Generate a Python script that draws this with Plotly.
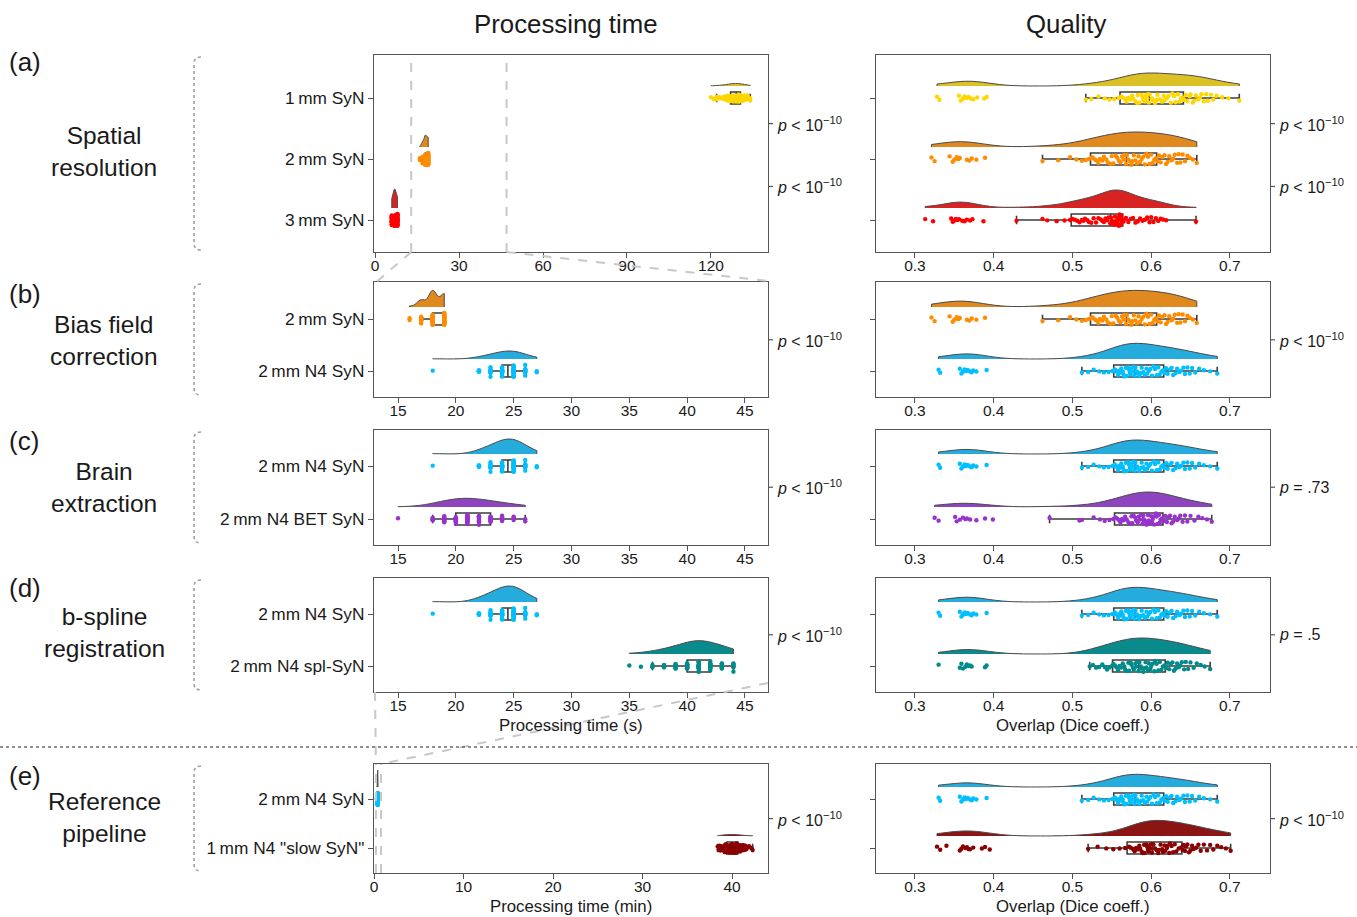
import numpy as np
import plotly.graph_objects as go

W, H = 1357, 917
FONT = "Liberation Sans, Arial, Helvetica, sans-serif"
TS = "\u2009"

# ---------------- data: processing time (distinct values, counts) ----------------
T_1MM_SYN_VALS = [120, 121, 122, 123, 124, 125, 126, 127, 128, 129, 130, 131, 132, 133, 134]
T_1MM_SYN_CNTS = [1, 1, 2, 2, 3, 4, 6, 10, 10, 11, 10, 8, 6, 4, 2]
T_2MM_SYN_VALS = [16, 17, 18, 19]
T_2MM_SYN_CNTS = [2, 15, 35, 28]
T_3MM_SYN_VALS = [6, 7, 8]
T_3MM_SYN_CNTS = [18, 40, 22]
T_N4_SYN_VALS = [18, 22, 23, 24, 25, 26, 27]
T_N4_SYN_CNTS = [1, 6, 12, 21, 26, 12, 2]
T_N4_BET_VALS = [15, 18, 19, 20, 21, 22, 23, 24, 25, 26]
T_N4_BET_CNTS = [1, 5, 10, 14, 16, 12, 9, 7, 4, 2]
T_N4_SPL_VALS = [35, 36, 37, 38, 39, 40, 41, 42, 43, 44]
T_N4_SPL_CNTS = [1, 1, 3, 6, 8, 14, 18, 14, 9, 6]
T_SLOW_MIN = [38.4, 38.5, 38.6, 38.7, 38.8, 38.8, 38.9, 39.0, 39.0, 39.1, 39.1, 39.2, 39.2, 39.2, 39.3,
              39.3, 39.3, 39.4, 39.4, 39.4, 39.5, 39.5, 39.5, 39.6, 39.6, 39.6, 39.7, 39.7, 39.7, 39.8,
              39.8, 39.8, 39.8, 39.9, 39.9, 39.9, 40.0, 40.0, 40.0, 40.0, 40.0, 40.1, 40.1, 40.1, 40.2,
              40.2, 40.2, 40.3, 40.3, 40.3, 40.4, 40.4, 40.4, 40.5, 40.5, 40.5, 40.6, 40.6, 40.6, 40.6,
              40.7, 40.7, 40.8, 40.8, 40.9, 40.9, 41.0, 41.0, 41.1, 41.1, 41.2, 41.2, 41.3, 41.4, 41.5,
              41.6, 41.9, 42.0, 42.2, 42.3]

# ---------------- data: overlap (Dice coefficient) ----------------
D_1MM_SYN = [0.328, 0.331, 0.356, 0.358, 0.361, 0.363, 0.366, 0.368, 0.371, 0.374, 0.379, 0.388, 0.391,
             0.517, 0.524, 0.533, 0.541, 0.547, 0.553, 0.559,
             0.562, 0.564, 0.567, 0.569, 0.571, 0.574, 0.576, 0.577, 0.580, 0.582, 0.583, 0.585, 0.588,
             0.589, 0.590, 0.592, 0.593, 0.595, 0.596, 0.597,
             0.598, 0.601, 0.602, 0.605, 0.607, 0.608, 0.611, 0.614, 0.616, 0.617, 0.620, 0.622, 0.625,
             0.627, 0.629, 0.631, 0.634, 0.636, 0.638, 0.640,
             0.642, 0.644, 0.646, 0.649, 0.650, 0.653, 0.655, 0.657, 0.660, 0.662, 0.664, 0.667, 0.670,
             0.672, 0.676, 0.679, 0.683, 0.690, 0.698, 0.712]
D_2MM_SYN = [0.321, 0.325, 0.344, 0.348, 0.350, 0.353, 0.355, 0.357, 0.366, 0.369, 0.372, 0.378, 0.389,
             0.462, 0.482, 0.497, 0.505, 0.512, 0.517, 0.521,
             0.525, 0.527, 0.530, 0.533, 0.535, 0.538, 0.540, 0.543, 0.545, 0.548, 0.550, 0.552, 0.555,
             0.557, 0.559, 0.561, 0.563, 0.565, 0.566, 0.568,
             0.569, 0.571, 0.573, 0.575, 0.576, 0.578, 0.580, 0.582, 0.584, 0.586, 0.588, 0.590, 0.592,
             0.594, 0.596, 0.598, 0.600, 0.602, 0.604, 0.606,
             0.608, 0.610, 0.612, 0.614, 0.617, 0.619, 0.621, 0.623, 0.626, 0.628, 0.630, 0.633, 0.635,
             0.637, 0.640, 0.643, 0.646, 0.649, 0.653, 0.658]
D_3MM_SYN = [0.313, 0.323, 0.346, 0.348, 0.350, 0.352, 0.354, 0.356, 0.360, 0.363, 0.366, 0.370, 0.373, 0.387,
             0.429, 0.462, 0.468, 0.480, 0.490, 0.497,
             0.500, 0.503, 0.506, 0.509, 0.512, 0.514, 0.516, 0.519, 0.521, 0.524, 0.527, 0.530, 0.533,
             0.536, 0.538, 0.540, 0.542, 0.544, 0.546, 0.548,
             0.549, 0.550, 0.551, 0.552, 0.553, 0.554, 0.555, 0.556, 0.557, 0.557, 0.558, 0.559, 0.559,
             0.560, 0.561, 0.561, 0.562, 0.562, 0.563, 0.563,
             0.565, 0.568, 0.571, 0.574, 0.577, 0.580, 0.583, 0.586, 0.589, 0.592, 0.595, 0.598, 0.600,
             0.603, 0.606, 0.609, 0.612, 0.615, 0.619, 0.657]
D_N4_SYN = [0.330, 0.332, 0.357, 0.359, 0.361, 0.363, 0.365, 0.367, 0.370, 0.372, 0.374, 0.378, 0.391,
            0.512, 0.520, 0.527, 0.534, 0.540, 0.546, 0.551,
            0.554, 0.555, 0.557, 0.558, 0.560, 0.561, 0.562, 0.564, 0.565, 0.566, 0.568, 0.569, 0.571,
            0.572, 0.573, 0.574, 0.575, 0.577, 0.578, 0.579,
            0.580, 0.582, 0.583, 0.585, 0.587, 0.588, 0.590, 0.592, 0.594, 0.595, 0.597, 0.599, 0.601,
            0.603, 0.605, 0.607, 0.609, 0.611, 0.613, 0.615,
            0.617, 0.619, 0.621, 0.624, 0.626, 0.628, 0.631, 0.633, 0.636, 0.638, 0.641, 0.643, 0.646,
            0.649, 0.652, 0.656, 0.661, 0.667, 0.675, 0.684]
D_N4_BET = [0.325, 0.330, 0.351, 0.353, 0.357, 0.361, 0.364, 0.366, 0.370, 0.378, 0.389, 0.399,
            0.471, 0.509, 0.512, 0.527, 0.535, 0.541, 0.547, 0.552,
            0.555, 0.557, 0.559, 0.561, 0.563, 0.565, 0.567, 0.569, 0.571, 0.573, 0.575, 0.576, 0.578,
            0.580, 0.581, 0.583, 0.584, 0.586, 0.587, 0.589,
            0.590, 0.591, 0.592, 0.594, 0.595, 0.596, 0.597, 0.598, 0.600, 0.601, 0.602, 0.603, 0.604,
            0.606, 0.607, 0.608, 0.610, 0.611, 0.612, 0.614,
            0.616, 0.618, 0.620, 0.622, 0.624, 0.626, 0.628, 0.630, 0.633, 0.635, 0.637, 0.640, 0.643,
            0.646, 0.650, 0.655, 0.660, 0.665, 0.671, 0.677]
D_N4_SPL = [0.330, 0.357, 0.359, 0.361, 0.364, 0.366, 0.368, 0.370, 0.372, 0.389, 0.391,
            0.522, 0.526, 0.530, 0.534, 0.538, 0.541, 0.544, 0.547, 0.550,
            0.552, 0.554, 0.556, 0.558, 0.560, 0.562, 0.564, 0.566, 0.567, 0.569, 0.571, 0.572, 0.574,
            0.575, 0.577, 0.578, 0.580, 0.581, 0.582, 0.584,
            0.585, 0.587, 0.588, 0.590, 0.591, 0.593, 0.594, 0.596, 0.597, 0.599, 0.600, 0.602, 0.604,
            0.605, 0.607, 0.609, 0.611, 0.613, 0.615, 0.617,
            0.619, 0.621, 0.623, 0.625, 0.627, 0.629, 0.631, 0.633, 0.635, 0.637, 0.639, 0.642, 0.644,
            0.647, 0.650, 0.654, 0.658, 0.663, 0.668, 0.675]
D_SLOW = [0.328, 0.332, 0.340, 0.357, 0.359, 0.361, 0.364, 0.366, 0.368, 0.370, 0.374, 0.385, 0.389, 0.395,
          0.520, 0.532, 0.543, 0.552, 0.560, 0.567,
          0.572, 0.574, 0.577, 0.579, 0.581, 0.583, 0.585, 0.586, 0.588, 0.589, 0.591, 0.592, 0.594,
          0.595, 0.596, 0.597, 0.598, 0.599, 0.600, 0.601,
          0.603, 0.605, 0.607, 0.609, 0.610, 0.612, 0.614, 0.615, 0.617, 0.618, 0.620, 0.621, 0.623,
          0.624, 0.626, 0.628, 0.630, 0.632, 0.635, 0.638,
          0.640, 0.641, 0.643, 0.644, 0.646, 0.648, 0.650, 0.652, 0.654, 0.657, 0.660, 0.663, 0.667,
          0.671, 0.675, 0.679, 0.684, 0.689, 0.695, 0.701]

LABEL_1MM = f"1{TS}mm SyN"
LABEL_2MM = f"2{TS}mm SyN"
LABEL_3MM = f"3{TS}mm SyN"
LABEL_N4 = f"2{TS}mm N4 SyN"
LABEL_BET = f"2{TS}mm N4 BET SyN"
LABEL_SPL = f"2{TS}mm N4 spl-SyN"
LABEL_SLOW = f'1{TS}mm N4 "slow SyN"'

P10 = "<i>p</i> < 10<sup>\u221210</sup>"


def expand(vals, cnts):
    return np.repeat(np.array(vals, dtype=float), cnts)


t_1mm = expand(T_1MM_SYN_VALS, T_1MM_SYN_CNTS)
t_2mm = expand(T_2MM_SYN_VALS, T_2MM_SYN_CNTS)
t_3mm = expand(T_3MM_SYN_VALS, T_3MM_SYN_CNTS)
t_n4 = expand(T_N4_SYN_VALS, T_N4_SYN_CNTS)
t_bet = expand(T_N4_BET_VALS, T_N4_BET_CNTS)
t_spl = expand(T_N4_SPL_VALS, T_N4_SPL_CNTS)
t_n4_min = t_n4 / 60.0
t_slow = np.array(T_SLOW_MIN)

# colours: (violin fill, points)
YEL = ("#dcc126", "#ffd700")
ORA = ("#e0891f", "#ff8c00")
RED = ("#d92222", "#ff0000")
BLU = ("#25abdc", "#00bfff")
PUR = ("#8e44bf", "#9932cc")
TEA = ("#0a8a8a", "#008b8b")
DRE = ("#8b1414", "#8b0000")

RANGE_A = [-0.357, 140.36]
RANGE_S = [12.925, 46.99]
RANGE_E = [0.0, 44.02]
RANGE_D = [0.2505, 0.751]

LEFT_PX = (374, 768)
RIGHT_PX = (876, 1270)

PANELS = [
    dict(letter="(a)", topic="Spatial<br>resolution", top=55, bottom=252, cat_px=[98, 159, 220],
         labels=[LABEL_1MM, LABEL_2MM, LABEL_3MM], time=[t_1mm, t_2mm, t_3mm],
         dice=[D_1MM_SYN, D_2MM_SYN, D_3MM_SYN], colors=[YEL, ORA, RED],
         xr=RANGE_A, xticks=[0, 30, 60, 90, 120], xfmt="{:d}",
         vh_l=[2.5, 12, 19], bw_l=[1.6, 0.45, 0.5], vh_r=[13, 15, 18], bw_r=[0.022, 0.022, 0.018],
         p_l=[(1.58, P10), (0.55, P10)], p_r=[(1.58, P10), (0.55, P10)], xtitle=None, dtitle=None),
    dict(letter="(b)", topic="Bias field<br>correction", top=282, bottom=397, cat_px=[319, 371],
         labels=[LABEL_2MM, LABEL_N4], time=[t_2mm, t_n4], dice=[D_2MM_SYN, D_N4_SYN], colors=[ORA, BLU],
         xr=RANGE_S, xticks=[15, 20, 25, 30, 35, 40, 45], xfmt="{:d}",
         vh_l=[16.6, 8], bw_l=[0.35, 0.9], vh_r=[16.6, 15.7], bw_r=[0.022, 0.022],
         p_l=[(0.6, P10)], p_r=[(0.6, P10)], xtitle=None, dtitle=None),
    dict(letter="(c)", topic="Brain<br>extraction", top=430, bottom=545, cat_px=[466, 519],
         labels=[LABEL_N4, LABEL_BET], time=[t_n4, t_bet], dice=[D_N4_SYN, D_N4_BET], colors=[BLU, PUR],
         xr=RANGE_S, xticks=[15, 20, 25, 30, 35, 40, 45], xfmt="{:d}",
         vh_l=[15, 8.7], bw_l=[0.9, 1.4], vh_r=[14, 15], bw_r=[0.022, 0.022],
         p_l=[(0.6, P10)], p_r=[(0.6, "<i>p</i> = .73")], xtitle=None, dtitle=None),
    dict(letter="(d)", topic="b-spline<br>registration", top=578, bottom=692, cat_px=[614, 666],
         labels=[LABEL_N4, LABEL_SPL], time=[t_n4, t_spl], dice=[D_N4_SYN, D_N4_SPL], colors=[BLU, TEA],
         xr=RANGE_S, xticks=[15, 20, 25, 30, 35, 40, 45], xfmt="{:d}",
         vh_l=[16, 13.3], bw_l=[0.9, 1.1], vh_r=[14.7, 16], bw_r=[0.022, 0.022],
         p_l=[(0.6, P10)], p_r=[(0.6, "<i>p</i> = .5")],
         xtitle="Processing time (s)", dtitle="Overlap (Dice coeff.)", title_y=725),
    dict(letter="(e)", topic="Reference<br>pipeline", top=764, bottom=873, cat_px=[799, 848],
         labels=[LABEL_N4, LABEL_SLOW], time=[t_n4_min, t_slow], dice=[D_N4_SYN, D_SLOW], colors=[BLU, DRE],
         xr=RANGE_E, xticks=[0, 10, 20, 30, 40], xfmt="{:d}",
         vh_l=[17, 1.5], bw_l=[0.015, 0.5], vh_r=[12.7, 15.6], bw_r=[0.022, 0.022],
         p_l=[(0.6, P10)], p_r=[(0.6, P10)],
         xtitle="Processing time (min)", dtitle="Overlap (Dice coeff.)", title_y=906),
]

fig = go.Figure()
layout = dict(width=W, height=H, autosize=False, margin=dict(l=0, r=0, t=0, b=0, pad=0),
              paper_bgcolor="white", plot_bgcolor="white", showlegend=False,
              violinmode="overlay", boxmode="overlay",
              font=dict(family=FONT, color="#1a1a1a", size=15))
shapes, annots = [], []
AX_COL = "#555555"
TXT = "#1a1a1a"


def axis_base():
    return dict(showline=True, linecolor=AX_COL, linewidth=1.3, mirror=True, ticks="outside",
                ticklen=5, tickwidth=1.2, tickcolor=AX_COL, showgrid=False, zeroline=False,
                fixedrange=True, automargin=False)


def to_px(val, rng, pxr):
    return pxr[0] + (val - rng[0]) / (rng[1] - rng[0]) * (pxr[1] - pxr[0])


ai = 0
axis_names = {}
for P in PANELS:
    n = len(P["cat_px"])
    ppu = (P["cat_px"][-1] - P["cat_px"][0]) / (n - 1)
    pos = [n - 1 - i for i in range(n)]
    yr = [-(P["bottom"] - P["cat_px"][-1]) / ppu, (n - 1) + (P["cat_px"][0] - P["top"]) / ppu]
    ydom = [1 - P["bottom"] / H, 1 - P["top"] / H]
    voff = 12.0 / ppu
    for side in ("left", "right"):
        ai += 1
        xa = "x" if ai == 1 else f"x{ai}"
        ya = "y" if ai == 1 else f"y{ai}"
        xk = "xaxis" if ai == 1 else f"xaxis{ai}"
        yk = "yaxis" if ai == 1 else f"yaxis{ai}"
        axis_names[(P["letter"], side)] = (xa, ya)
        pxr = LEFT_PX if side == "left" else RIGHT_PX
        xr = P["xr"] if side == "left" else RANGE_D
        xaxis = axis_base()
        xaxis.update(domain=[pxr[0] / W, pxr[1] / W], range=xr, anchor=ya, ticklabelstandoff=-6,
                     tickfont=dict(size=15.5, family=FONT, color=TXT))
        if side == "left":
            xaxis.update(tickvals=P["xticks"], ticktext=[P["xfmt"].format(v) for v in P["xticks"]])
        else:
            xaxis.update(tickvals=[0.3, 0.4, 0.5, 0.6, 0.7], ticktext=["0.3", "0.4", "0.5", "0.6", "0.7"])
        yaxis = axis_base()
        yaxis.update(domain=ydom, range=yr, anchor=xa, tickvals=pos)
        if side == "left":
            yaxis.update(ticktext=P["labels"], tickfont=dict(size=17.3, family=FONT, color=TXT))
        else:
            yaxis.update(showticklabels=False)
        layout[xk] = xaxis
        layout[yk] = yaxis

        datas = P["time"] if side == "left" else P["dice"]
        vhs = P["vh_l"] if side == "left" else P["vh_r"]
        bws = P["bw_l"] if side == "left" else P["bw_r"]
        for j in range(n):
            data = np.asarray(datas[j], dtype=float)
            vcol, pcol = P["colors"][j]
            fig.add_trace(go.Violin(
                x=data, y0=pos[j] + voff, orientation="h", side="positive",
                width=2 * vhs[j] / ppu, spanmode="hard", bandwidth=bws[j], scalemode="width",
                fillcolor=vcol, opacity=1, line=dict(color="#4a4a4a", width=1),
                points=False, box_visible=False, meanline_visible=False,
                xaxis=xa, yaxis=ya, hoverinfo="skip", showlegend=False))
            fig.add_trace(go.Box(
                x=data, y0=pos[j], orientation="h", width=12.0 / ppu,
                boxpoints="all", jitter=1.0, pointpos=0,
                marker=dict(color=pcol, size=4.4, line=dict(width=0)),
                line=dict(color="#3c3c3c", width=1.6), fillcolor="rgba(0,0,0,0)",
                whiskerwidth=0.7, xaxis=xa, yaxis=ya, hoverinfo="skip", showlegend=False))

        # p-value ticks and labels on the right edge
        plist = P["p_l"] if side == "left" else P["p_r"]
        wpx = pxr[1] - pxr[0]
        for (pv, txt) in plist:
            shapes.append(dict(type="line", xref=f"{xa} domain", yref=ya, x0=1, x1=1 + 5.0 / wpx,
                               y0=pv, y1=pv, line=dict(color=AX_COL, width=1.2)))
            annots.append(dict(xref=f"{xa} domain", yref=ya, x=1 + 7.0 / wpx, y=pv, text=txt,
                               showarrow=False, xanchor="left", yanchor="middle",
                               font=dict(size=16, family=FONT, color=TXT)))

    # bracket
    bx0, bx1 = 194, 201
    t0, b0 = P["top"] + 2, P["bottom"] - 2
    path = (f"M {bx1/W},{1-t0/H} Q {bx0/W},{1-t0/H} {bx0/W},{1-(t0+7)/H} "
            f"L {bx0/W},{1-(b0-7)/H} Q {bx0/W},{1-b0/H} {bx1/W},{1-b0/H}")
    shapes.append(dict(type="path", xref="paper", yref="paper", path=path,
                       line=dict(color="#a0a0a0", width=1.6, dash="dot")))
    # row label and letter
    lab_y = {"(a)": 152, "(b)": 340, "(c)": 487, "(d)": 632, "(e)": 817}[P["letter"]]
    let_y = {"(a)": 62, "(b)": 294, "(c)": 441, "(d)": 588, "(e)": 776}[P["letter"]]
    annots.append(dict(xref="paper", yref="paper", x=104 / W, y=1 - lab_y / H, text=P["topic"],
                       showarrow=False, xanchor="center", yanchor="middle", align="center",
                       font=dict(size=24.5, family=FONT, color=TXT)))
    annots.append(dict(xref="paper", yref="paper", x=7 / W, y=1 - let_y / H, text=P["letter"],
                       showarrow=False, xanchor="left", yanchor="middle",
                       font=dict(size=26, family=FONT, color=TXT)))
    if P["xtitle"]:
        ty = P["title_y"]
        annots.append(dict(xref="paper", yref="paper", x=(LEFT_PX[0] + LEFT_PX[1]) / 2 / W, y=1 - ty / H,
                           text=P["xtitle"], showarrow=False, xanchor="center", yanchor="middle",
                           font=dict(size=16.8, family=FONT, color=TXT)))
        annots.append(dict(xref="paper", yref="paper", x=(RIGHT_PX[0] + RIGHT_PX[1]) / 2 / W, y=1 - ty / H,
                           text=P["dtitle"], showarrow=False, xanchor="center", yanchor="middle",
                           font=dict(size=16.8, family=FONT, color=TXT)))

# column titles
annots.append(dict(xref="paper", yref="paper", x=566 / W, y=1 - 24 / H, text="Processing time",
                   showarrow=False, xanchor="center", yanchor="middle",
                   font=dict(size=25.8, family=FONT, color=TXT)))
annots.append(dict(xref="paper", yref="paper", x=1066 / W, y=1 - 24 / H, text="Quality",
                   showarrow=False, xanchor="center", yanchor="middle",
                   font=dict(size=25.8, family=FONT, color=TXT)))

# zoom connectors (dashed grey)
DASH = dict(color="#c8c8c8", width=2, dash="dash")
xa_a, ya_a = axis_names[("(a)", "left")]
xa_e, ya_e = axis_names[("(e)", "left")]
for v in RANGE_S:
    shapes.append(dict(type="line", xref=xa_a, yref=f"{ya_a} domain", x0=v, x1=v, y0=0, y1=1, line=DASH))
    shapes.append(dict(type="line", xref=xa_e, yref=f"{ya_e} domain", x0=v / 60, x1=v / 60, y0=0, y1=1,
                       line=DASH))
pa, pb, pd_, pe = PANELS[0], PANELS[1], PANELS[3], PANELS[4]
lo_a = to_px(RANGE_S[0], RANGE_A, LEFT_PX)
hi_a = to_px(RANGE_S[1], RANGE_A, LEFT_PX)
lo_e = to_px(RANGE_S[0] / 60, RANGE_E, LEFT_PX)
hi_e = to_px(RANGE_S[1] / 60, RANGE_E, LEFT_PX)
segs = [
    ((lo_a, pa["bottom"]), (LEFT_PX[0], pb["top"] + 2)),
    ((hi_a, pa["bottom"]), (LEFT_PX[1], pb["top"] - 1)),
    ((LEFT_PX[0] + 1, pd_["bottom"]), (lo_e, pe["top"])),
    ((LEFT_PX[1], pd_["bottom"] - 9), (hi_e, pe["top"])),
]
for (x0, y0), (x1, y1) in segs:
    shapes.append(dict(type="line", xref="paper", yref="paper", x0=x0 / W, y0=1 - y0 / H,
                       x1=x1 / W, y1=1 - y1 / H, line=DASH))

# horizontal dotted separator
shapes.append(dict(type="line", xref="paper", yref="paper", x0=0, x1=1, y0=1 - 747 / H, y1=1 - 747 / H,
                   line=dict(color="#6a6a6a", width=1.6, dash="dot")))

layout["shapes"] = shapes
layout["annotations"] = annots
fig.update_layout(**layout)
fig.write_html("out.html", config={"displayModeBar": False},
               post_script="document.body.style.margin='0px';document.body.style.overflow='hidden';")
